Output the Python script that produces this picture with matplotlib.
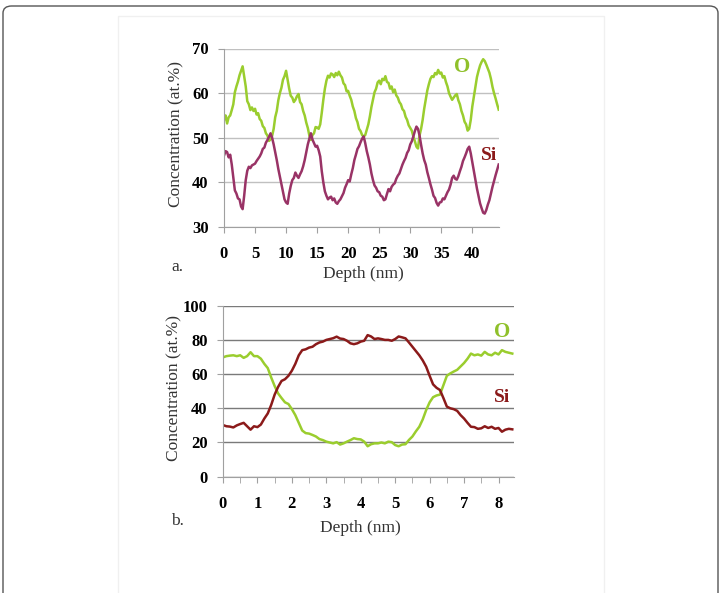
import numpy as np
import matplotlib
matplotlib.use("Agg")
import matplotlib.pyplot as plt
from matplotlib.patches import FancyBboxPatch, Rectangle

# panel a: multilayer profile, sampled every 0.25 nm
o_a = [54.0, 55.0, 53.2, 54.6, 55.0, 56.2, 57.5, 60.2, 61.5, 62.6, 64.0, 65.0, 66.0, 63.8,
       61.5, 58.2, 57.5, 56.2, 56.8, 56.0, 56.5, 55.2, 55.5, 54.2, 53.8, 52.6, 52.2, 51.0,
       50.5, 49.3, 49.6, 50.4, 52.0, 54.6, 56.0, 58.4, 60.0, 61.2, 63.0, 63.8, 65.0, 63.0,
       61.0, 59.4, 59.0, 58.0, 58.5, 59.3, 59.8, 58.0, 57.5, 56.0, 55.0, 53.4, 52.2, 50.5,
       49.5, 50.6, 51.0, 52.4, 52.3, 52.0, 53.0, 55.6, 58.5, 61.0, 62.8, 63.9, 63.5, 64.4,
       64.2, 63.6, 64.5, 64.0, 64.8, 64.0, 63.5, 62.2, 61.8, 60.4, 60.5, 59.4, 58.5, 57.0,
       56.0, 54.4, 53.5, 52.0, 51.5, 50.6, 50.3, 50.6, 51.8, 53.0, 54.8, 56.9, 58.5, 60.2,
       61.0, 62.4, 62.8, 62.0, 63.2, 62.9, 63.8, 62.5, 62.3, 61.0, 61.5, 60.2, 60.8, 59.5,
       59.0, 58.0, 57.5, 56.4, 56.0, 54.7, 54.0, 52.8, 52.2, 51.6, 50.3, 49.2, 48.0, 47.6,
       50.5, 52.0, 54.0, 56.5, 58.5, 60.6, 62.0, 63.2, 63.8, 63.6, 64.5, 64.2, 65.2, 64.4,
       64.6, 63.5, 63.8, 62.5, 61.5, 60.0, 59.2, 58.5, 59.0, 59.5, 59.8, 58.4, 57.5, 56.0,
       55.0, 53.6, 53.0, 51.6, 52.0, 54.0, 57.0, 59.2, 61.5, 63.6, 65.0, 66.2, 67.0, 67.6,
       67.2, 66.4, 65.5, 64.6, 63.2, 61.4, 60.0, 58.8, 57.5, 56.3]
si_a = [46.0, 47.0, 46.8, 45.6, 46.2, 44.0, 41.0, 38.2, 37.5, 36.4, 36.2, 34.6, 34.0, 37.0,
        40.5, 42.6, 43.5, 43.2, 43.8, 44.0, 44.2, 44.8, 45.3, 45.8, 46.5, 47.5, 47.8, 48.9,
        49.5, 50.2, 51.0, 50.0, 48.5, 46.8, 45.0, 43.0, 41.3, 39.6, 38.0, 36.2, 35.5, 35.2,
        37.5, 39.2, 40.5, 41.0, 42.2, 41.5, 41.0, 41.8, 42.5, 43.6, 45.0, 46.8, 48.5, 49.8,
        51.0, 49.6, 48.8, 48.0, 48.2, 47.2, 45.8, 42.5, 40.0, 38.0, 37.0, 36.2, 36.6, 36.8,
        36.0, 36.4, 35.5, 35.2, 35.8, 36.2, 36.9, 37.6, 38.8, 39.6, 40.5, 40.2, 41.8, 43.2,
        45.0, 46.2, 47.5, 48.1, 49.0, 49.8, 50.3, 48.8, 47.0, 45.6, 44.0, 42.0, 40.5, 39.3,
        38.8, 38.0, 37.8, 37.0, 36.8, 36.0, 36.2, 37.4, 38.5, 38.0, 39.0, 39.5, 39.8, 40.8,
        41.5, 42.0, 43.0, 44.0, 44.8, 45.5, 46.6, 47.2, 48.5, 49.2, 50.3, 51.5, 52.5, 52.0,
        50.5, 48.4, 46.5, 45.0, 44.0, 42.3, 41.0, 39.6, 38.4, 37.0, 36.5, 35.4, 34.8, 35.5,
        35.6, 36.4, 36.2, 37.0, 37.8, 38.4, 39.5, 41.0, 41.5, 40.8, 40.6, 41.4, 42.5, 43.5,
        44.8, 45.6, 46.5, 47.5, 48.0, 46.5, 44.5, 42.4, 40.5, 38.6, 37.0, 35.3, 34.2, 33.2,
        33.0, 33.8, 35.0, 36.0, 37.5, 39.0, 40.3, 41.6, 42.8, 44.0]
depth_a = np.arange(len(o_a)) * 0.25

# panel b: single layer profile, sampled every 0.1 nm
o_b = [69.8, 70.5, 70.8, 71.0, 70.5, 71.0, 69.5, 70.5, 72.8, 70.5, 70.5, 69.0, 66.0, 63.5,
       58.0, 53.0, 48.7, 46.0, 43.5, 42.5, 39.5, 36.0, 31.5, 27.0, 25.5, 25.2, 24.4, 23.5,
       22.0, 21.4, 20.5, 20.0, 19.5, 20.2, 18.8, 19.5, 20.5, 21.4, 22.5, 22.0, 21.8, 20.5,
       17.8, 19.0, 19.5, 19.5, 20.0, 19.5, 20.5, 20.2, 18.5, 17.8, 18.8, 19.0, 21.5, 23.5,
       26.5, 29.2, 33.5, 39.0, 43.5, 46.5, 47.5, 48.0, 53.5, 59.0, 60.4, 61.5, 62.5, 64.5,
       66.5, 69.0, 72.0, 71.0, 71.5, 70.8, 73.0, 71.5, 71.0, 72.5, 71.5, 74.0, 73.0, 72.5,
       72.0]
si_b = [30.2, 29.5, 29.3, 28.8, 30.0, 30.8, 31.5, 29.5, 27.5, 29.5, 29.0, 30.5, 34.0, 37.0,
        42.0, 48.0, 52.5, 56.0, 57.0, 59.0, 62.0, 66.0, 71.0, 74.0, 74.5, 75.5, 76.0, 77.5,
        78.5, 79.0, 80.0, 80.5, 81.0, 81.9, 80.8, 80.5, 79.5, 78.0, 77.5, 78.0, 79.0, 79.5,
        82.8, 82.0, 80.5, 80.9, 80.5, 80.0, 80.0, 79.5, 80.5, 82.0, 81.5, 80.9, 78.5, 76.0,
        73.5, 71.0, 68.0, 64.3, 59.0, 54.0, 52.0, 50.7, 46.0, 41.0, 40.0, 39.5, 38.5, 36.0,
        34.0, 31.5, 29.2, 29.0, 28.0, 28.3, 29.5, 28.5, 29.2, 28.0, 28.5, 26.3, 27.5, 28.0,
        27.7]
depth_b = np.arange(len(o_b)) * 0.1

green = "#9acd2e"
purple = "#993366"
darkred = "#8b1a1a"
serif = ["Liberation Serif", "DejaVu Serif"]

fig = plt.figure(figsize=(7.21, 5.93), dpi=100)

# outer rounded frame and inner panel
fig.patches.append(FancyBboxPatch((3 / 721, -0.05), 715 / 721, 1 - 6 / 593 + 0.05,
                                  boxstyle="round,pad=0,rounding_size=0.012",
                                  transform=fig.transFigure, fill=False,
                                  edgecolor="#555555", linewidth=1.0))
fig.patches.append(Rectangle((118 / 721, -0.05), 486 / 721, 1 - 16 / 593 + 0.05,
                             transform=fig.transFigure, fill=False,
                             edgecolor="#f0f0f0", linewidth=1.0))


def style_axes(ax, gridcolor, label_x, label_y):
    ax.grid(axis="y", color=gridcolor, linewidth=1.0)
    ax.set_axisbelow(True)
    for s in ["top", "right"]:
        ax.spines[s].set_visible(False)
    for s in ["left", "bottom"]:
        ax.spines[s].set_color("#a0a0a0")
    ax.tick_params(axis="both", colors="#a0a0a0", labelcolor="black", length=4)
    ax.tick_params(axis="x", pad=10)
    ax.tick_params(axis="y", pad=7)
    for lab in ax.get_xticklabels() + ax.get_yticklabels():
        lab.set_family(serif)
        lab.set_fontweight("bold")
        lab.set_fontsize(12)
    ax.set_ylabel("Concentration (at.%)", family=serif, fontsize=12.5, color="#333333")
    ax.yaxis.set_label_coords(label_x, label_y)


# panel a
ax1 = fig.add_axes([224 / 721, 1 - 227 / 593, 275 / 721, 178.5 / 593])
ax1.plot(depth_a, o_a, color=green, lw=1.8)
ax1.plot(depth_a, si_a, color=purple, lw=1.8)
ax1.set_xlim(0, 44.3)
ax1.set_ylim(30, 70)
ax1.set_xticks(np.arange(0, 41, 5))
ax1.set_yticks(np.arange(30, 71, 10))
style_axes(ax1, "#c0c0c0", -0.145, 0.52)
ax1.text(38.4, 65.8, "O", color="#8fc02a", family=serif, fontweight="bold", fontsize=15,
         ha="center", va="center")
ax1.text(42.7, 46.1, "Si", color=darkred, family=serif, fontweight="bold", fontsize=14,
         ha="center", va="center")
fig.text(363 / 721, 1 - 274 / 593, "Depth (nm)", family=serif, fontsize=12.5,
         color="#333333", ha="center", va="center")
fig.text(177 / 721, 1 - 267 / 593, "a.", family=serif, fontsize=12.5, color="#333333",
         ha="center", va="center")

# panel b
ax2 = fig.add_axes([223 / 721, 1 - 476.7 / 593, 291 / 721, 171 / 593])
ax2.plot(depth_b, o_b, color=green, lw=1.8)
ax2.plot(depth_b, si_b, color=darkred, lw=1.8)
ax2.set_xlim(0, 8.45)
ax2.set_ylim(0, 100)
ax2.set_xticks(np.arange(0, 9, 1))
ax2.set_xticks(np.arange(0, 8.5, 0.5), minor=True)
ax2.set_yticks(np.arange(0, 101, 20))
style_axes(ax2, "#7a7a7a", -0.14, 0.52)
ax2.tick_params(axis="x", which="minor", colors="#a0a0a0", length=4)
ax2.text(8.1, 84.6, "O", color="#8fc02a", family=serif, fontweight="bold", fontsize=15,
         ha="center", va="center")
ax2.text(8.1, 46.6, "Si", color=darkred, family=serif, fontweight="bold", fontsize=14,
         ha="center", va="center")
fig.text(360 / 721, 1 - 528 / 593, "Depth (nm)", family=serif, fontsize=12.5,
         color="#333333", ha="center", va="center")
fig.text(177 / 721, 1 - 521 / 593, "b.", family=serif, fontsize=12.5, color="#333333",
         ha="center", va="center")

fig.savefig("out.png", dpi=100)
